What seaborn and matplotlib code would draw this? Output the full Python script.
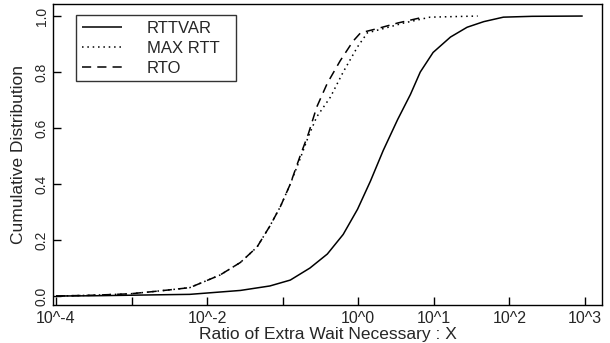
import numpy as np
import pandas as pd
import matplotlib
matplotlib.use("Agg")
import matplotlib.pyplot as plt
import seaborn as sns

# curves (log10 of X, cumulative fraction)
rttvar_logx = [-4.0, -3.5, -3.0, -2.5, -2.23, -1.56, -1.17, -0.9, -0.64, -0.41, -0.2, -0.01,
               0.16, 0.33, 0.52, 0.69, 0.82, 0.99, 1.22, 1.44, 1.66, 1.92, 2.3, 2.97]
rttvar_cdf = [0.0, 0.001, 0.003, 0.005, 0.006, 0.02, 0.036, 0.057, 0.10, 0.15, 0.22, 0.31,
              0.41, 0.52, 0.63, 0.72, 0.80, 0.87, 0.925, 0.96, 0.98, 0.996, 0.999, 1.0]

maxrtt_logx = [-4.0, -3.5, -3.02, -2.75, -2.5, -2.23, -1.83, -1.56, -1.34, -1.17, -1.03, -0.9,
               -0.77, -0.66, -0.55, -0.37, -0.2, -0.01, 0.12, 0.33, 0.6, 0.95, 1.58]
maxrtt_cdf = [0.0, 0.003, 0.008, 0.015, 0.022, 0.03, 0.075, 0.12, 0.175, 0.25, 0.32, 0.40,
              0.49, 0.57, 0.64, 0.71, 0.80, 0.89, 0.94, 0.955, 0.975, 0.996, 1.0]

rto_logx = [-4.0, -3.5, -3.02, -2.75, -2.5, -2.23, -1.83, -1.56, -1.34, -1.17, -1.03, -0.9,
            -0.77, -0.66, -0.55, -0.41, -0.24, -0.07, 0.03, 0.25, 0.52, 0.86]
rto_cdf = [0.0, 0.003, 0.008, 0.015, 0.022, 0.03, 0.075, 0.12, 0.175, 0.25, 0.32, 0.40,
           0.50, 0.58, 0.675, 0.76, 0.84, 0.91, 0.94, 0.955, 0.975, 0.996]

series_names = ["RTTVAR", "MAX RTT", "RTO"]
tick_exps = [-4, -3, -2, -1, 0, 1, 2, 3]
tick_labels = ["10^-4", "", "10^-2", "", "10^0", "10^1", "10^2", "10^3"]
ytick_vals = [0.0, 0.2, 0.4, 0.6, 0.8, 1.0]

sns.set_style("ticks")
plt.rcParams['font.family'] = ['Liberation Sans', 'DejaVu Sans']

fig = plt.figure(figsize=(6.1, 3.43), dpi=100)
ax = fig.add_axes([53 / 610, 38 / 343, 549 / 610, 301 / 343])

styles = {"RTTVAR": (0, ()), "MAX RTT": (0, (1, 2.5)), "RTO": (0, (6, 4))}
for name, lx, cdf in zip(series_names,
                         [rttvar_logx, maxrtt_logx, rto_logx],
                         [rttvar_cdf, maxrtt_cdf, rto_cdf]):
    d = pd.DataFrame({"x": 10.0 ** np.array(lx), "y": cdf})
    sns.lineplot(data=d, x="x", y="y", ax=ax, color="black", lw=1.1,
                 linestyle=styles[name], label=name)

ax.set_xscale("log")
ax.set_xlim(10 ** -4.04, 10 ** 3.225)
ax.set_ylim(-0.032, 1.043)
ax.set_xticks([10.0 ** e for e in tick_exps])
ax.set_xticklabels(tick_labels, fontsize=11.5)
ax.minorticks_off()
ax.set_yticks(ytick_vals)
ax.set_yticklabels([f"{v:.1f}" for v in ytick_vals], rotation=90, va="center", fontsize=10)
ax.tick_params(direction="in", length=6, width=1, color="black", pad=3)
ax.tick_params(axis="x", pad=4)
for s in ax.spines.values():
    s.set_color("black")
    s.set_linewidth(1.0)

ax.set_xlabel("Ratio of Extra Wait Necessary : X", fontsize=12.5, labelpad=1)
ax.set_ylabel("Cumulative Distribution", fontsize=12.5, labelpad=6)

# legend box spans about x 76..236, y 15..81 px in the reference
leg = ax.legend(loc="upper left", bbox_to_anchor=(23 / 549, 1 - 11 / 301, 160 / 549, 0.0),
                mode="expand", frameon=True, fancybox=False, fontsize=12,
                handlelength=2.4, handletextpad=1.5, borderpad=0.34,
                labelspacing=0.3, borderaxespad=0)
leg.get_frame().set_edgecolor("black")
leg.get_frame().set_linewidth(1.0)

fig.savefig("out.png", dpi=100)
